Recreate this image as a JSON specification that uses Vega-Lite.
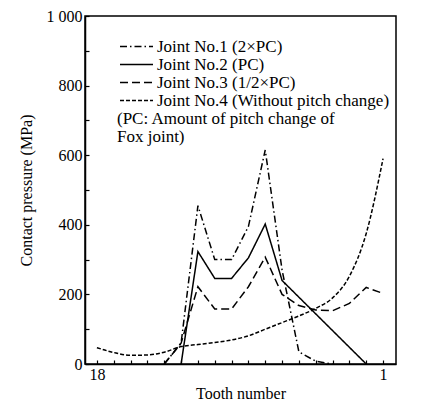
{
  "$schema": "https://vega.github.io/schema/vega-lite/v6.json",
  "width": 311,
  "height": 348,
  "autosize": {"type": "none"},
  "padding": {"left": 85, "top": 16, "right": 31, "bottom": 40},
  "config": {
    "font": "Liberation Serif",
    "style": {"guide-label": {"font": "Liberation Serif"}, "guide-title": {"font": "Liberation Serif"}},
    "view": {"stroke": "black", "strokeWidth": 1.5},
    "axis": {"domainColor": "black", "domainWidth": 1.5, "tickColor": "black", "labelColor": "black", "titleColor": "black", "grid": false, "labelFont": "Liberation Serif", "titleFont": "Liberation Serif"}
  },
  "datasets": {
    "steps": [
      {"joint": "Joint No.1 (2×PC)", "tooth": 14, "p": 0},
      {"joint": "Joint No.1 (2×PC)", "tooth": 13, "p": 60},
      {"joint": "Joint No.1 (2×PC)", "tooth": 12, "p": 455},
      {"joint": "Joint No.1 (2×PC)", "tooth": 11, "p": 300},
      {"joint": "Joint No.1 (2×PC)", "tooth": 10, "p": 300},
      {"joint": "Joint No.1 (2×PC)", "tooth": 9, "p": 395},
      {"joint": "Joint No.1 (2×PC)", "tooth": 8, "p": 615},
      {"joint": "Joint No.1 (2×PC)", "tooth": 7, "p": 270},
      {"joint": "Joint No.1 (2×PC)", "tooth": 6, "p": 35},
      {"joint": "Joint No.1 (2×PC)", "tooth": 5, "p": 8},
      {"joint": "Joint No.1 (2×PC)", "tooth": 4, "p": 0},
      {"joint": "Joint No.2 (PC)", "tooth": 13, "p": 0},
      {"joint": "Joint No.2 (PC)", "tooth": 12, "p": 323},
      {"joint": "Joint No.2 (PC)", "tooth": 11, "p": 246},
      {"joint": "Joint No.2 (PC)", "tooth": 10, "p": 246},
      {"joint": "Joint No.2 (PC)", "tooth": 9, "p": 305},
      {"joint": "Joint No.2 (PC)", "tooth": 8, "p": 402},
      {"joint": "Joint No.2 (PC)", "tooth": 7, "p": 240},
      {"joint": "Joint No.2 (PC)", "tooth": 6, "p": 192},
      {"joint": "Joint No.2 (PC)", "tooth": 5, "p": 144},
      {"joint": "Joint No.2 (PC)", "tooth": 4, "p": 96},
      {"joint": "Joint No.2 (PC)", "tooth": 3, "p": 48},
      {"joint": "Joint No.2 (PC)", "tooth": 2, "p": 0},
      {"joint": "Joint No.3 (1/2×PC)", "tooth": 14, "p": 0},
      {"joint": "Joint No.3 (1/2×PC)", "tooth": 13, "p": 60},
      {"joint": "Joint No.3 (1/2×PC)", "tooth": 12, "p": 222},
      {"joint": "Joint No.3 (1/2×PC)", "tooth": 11, "p": 158},
      {"joint": "Joint No.3 (1/2×PC)", "tooth": 10, "p": 158},
      {"joint": "Joint No.3 (1/2×PC)", "tooth": 9, "p": 222},
      {"joint": "Joint No.3 (1/2×PC)", "tooth": 8, "p": 307},
      {"joint": "Joint No.3 (1/2×PC)", "tooth": 7, "p": 200},
      {"joint": "Joint No.3 (1/2×PC)", "tooth": 6, "p": 168},
      {"joint": "Joint No.3 (1/2×PC)", "tooth": 5, "p": 155},
      {"joint": "Joint No.3 (1/2×PC)", "tooth": 4, "p": 153},
      {"joint": "Joint No.3 (1/2×PC)", "tooth": 3, "p": 174},
      {"joint": "Joint No.3 (1/2×PC)", "tooth": 2, "p": 220},
      {"joint": "Joint No.3 (1/2×PC)", "tooth": 1, "p": 203}
    ],
    "smooth": [
      {"joint": "Joint No.4 (Without pitch change)", "tooth": 18, "p": 47},
      {"joint": "Joint No.4 (Without pitch change)", "tooth": 17, "p": 33},
      {"joint": "Joint No.4 (Without pitch change)", "tooth": 16, "p": 25},
      {"joint": "Joint No.4 (Without pitch change)", "tooth": 15, "p": 26},
      {"joint": "Joint No.4 (Without pitch change)", "tooth": 14, "p": 34},
      {"joint": "Joint No.4 (Without pitch change)", "tooth": 13, "p": 50},
      {"joint": "Joint No.4 (Without pitch change)", "tooth": 12, "p": 56},
      {"joint": "Joint No.4 (Without pitch change)", "tooth": 11, "p": 62},
      {"joint": "Joint No.4 (Without pitch change)", "tooth": 10, "p": 69},
      {"joint": "Joint No.4 (Without pitch change)", "tooth": 9, "p": 81},
      {"joint": "Joint No.4 (Without pitch change)", "tooth": 8, "p": 100},
      {"joint": "Joint No.4 (Without pitch change)", "tooth": 7, "p": 119},
      {"joint": "Joint No.4 (Without pitch change)", "tooth": 6, "p": 138},
      {"joint": "Joint No.4 (Without pitch change)", "tooth": 5, "p": 160},
      {"joint": "Joint No.4 (Without pitch change)", "tooth": 4, "p": 190},
      {"joint": "Joint No.4 (Without pitch change)", "tooth": 3, "p": 252},
      {"joint": "Joint No.4 (Without pitch change)", "tooth": 2, "p": 375},
      {"joint": "Joint No.4 (Without pitch change)", "tooth": 1, "p": 590}
    ]
  },
  "encoding": {
    "x": {
      "field": "tooth", "type": "quantitative",
      "scale": {"domain": [18.71, 0.23], "nice": false, "zero": false},
      "axis": {
        "title": "Tooth number",
        "values": [18, 17, 16, 15, 14, 13, 12, 11, 10, 9, 8, 7, 6, 5, 4, 3, 2, 1],
        "labelExpr": "datum.value == 18 || datum.value == 1 ? datum.label : ''",
        "labelFont": "Liberation Serif", "labelFontSize": 16, "titleFont": "Liberation Serif", "titleFontSize": 16, "titleFontWeight": "normal",
        "tickSize": -4, "tickWidth": 1.2, "labelPadding": 6, "titlePadding": 3, "labelFlush": false
      }
    },
    "y": {
      "field": "p", "type": "quantitative",
      "scale": {"domain": [0, 1000], "nice": false},
      "axis": {
        "title": "Contact pressure (MPa)",
        "values": [0, 100, 200, 300, 400, 500, 600, 700, 800, 900, 1000],
        "labelExpr": "datum.value == 1000 ? '1 000' : (datum.value % 200 == 0 ? datum.label : '')",
        "labelFont": "Liberation Serif", "labelFontSize": 16, "titleFont": "Liberation Serif", "titleFontSize": 16, "titleFontWeight": "normal",
        "tickSize": -4, "tickWidth": 1.2, "labelPadding": 7, "titlePadding": 12
      }
    },
    "strokeDash": {
      "field": "joint", "type": "nominal",
      "scale": {
        "domain": ["Joint No.1 (2×PC)", "Joint No.2 (PC)", "Joint No.3 (1/2×PC)", "Joint No.4 (Without pitch change)"],
        "range": [[7, 3, 1.5, 3], [1, 0], [8, 4], [4, 2]]
      },
      "legend": {
        "orient": "none", "legendX": 32, "legendY": 22,
        "title": ["(PC: Amount of pitch change of", "Fox joint)"],
        "titleOrient": "bottom", "titleAnchor": "start", "titleFont": "Liberation Serif", "titleFontSize": 17, "titleFontWeight": "normal", "titleColor": "black", "titleLimit": 400, "titlePadding": 2, "titleLineHeight": 18,
        "labelFont": "Liberation Serif", "labelFontSize": 17, "labelColor": "black", "labelLimit": 400, "labelOffset": 23,
        "symbolType": "M-1,0H5", "symbolSize": 121, "symbolStrokeWidth": 1.5, "symbolStrokeColor": "black", "rowPadding": 0
      }
    }
  },
  "layer": [
    {
      "data": {"name": "steps"},
      "mark": {"type": "line", "color": "black", "strokeWidth": 1.5, "interpolate": "linear"}
    },
    {
      "data": {"name": "smooth"},
      "mark": {"type": "line", "color": "black", "strokeWidth": 1.5, "interpolate": "monotone"}
    }
  ]
}
